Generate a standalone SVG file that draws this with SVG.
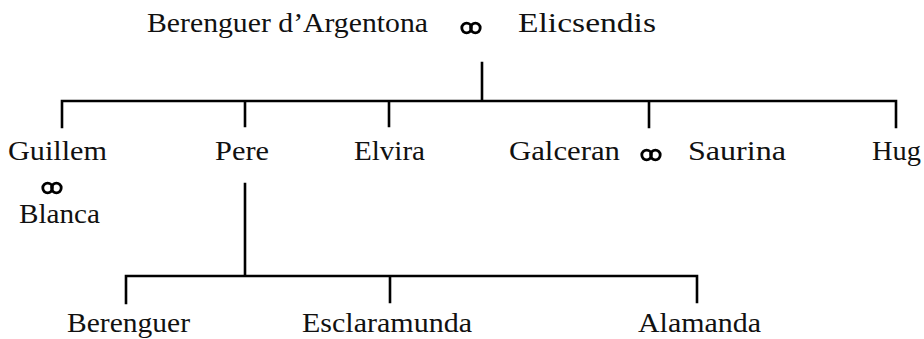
<svg xmlns="http://www.w3.org/2000/svg" width="924" height="339" viewBox="0 0 924 339">
<style>
text{font-family:"Liberation Serif","DejaVu Serif",serif;font-size:28px;fill:#111}
.ln{stroke:#000;stroke-width:2.6;fill:none;stroke-linecap:square}
.ring{stroke:#000;stroke-width:2.8;fill:none}
</style>
<defs>
<g id="marr"><circle class="ring" cx="-4.4" cy="0" r="4.8"/><circle class="ring" cx="4.4" cy="0" r="4.8"/></g>
</defs>
<rect width="924" height="339" fill="#fff"/>
<g id="connectors">
<path class="ln" d="M482 63V101M62 101H896M62 101V127M245 101V126M389 101V126M649 101V127M896 101V127"/>
<path class="ln" d="M245 184V276M126 276H697M126 276V303M390 276V302M697 276V302"/>
</g>
<g id="n-berenguer-argentona"><text x="147" y="32" textLength="281" lengthAdjust="spacingAndGlyphs">Berenguer d’Argentona</text></g>
<g id="m-top"><use href="#marr" x="471" y="28"/></g>
<g id="n-elicsendis"><text x="518" y="32" textLength="138" lengthAdjust="spacingAndGlyphs">Elicsendis</text></g>
<g id="n-guillem"><text x="8" y="160" textLength="99" lengthAdjust="spacingAndGlyphs">Guillem</text></g>
<g id="m-guillem"><use href="#marr" x="52" y="188"/></g>
<g id="n-blanca"><text x="19" y="223" textLength="81" lengthAdjust="spacingAndGlyphs">Blanca</text></g>
<g id="n-pere"><text x="215" y="160" textLength="54" lengthAdjust="spacingAndGlyphs">Pere</text></g>
<g id="n-elvira"><text x="354" y="160" textLength="71" lengthAdjust="spacingAndGlyphs">Elvira</text></g>
<g id="n-galceran"><text x="509" y="160" textLength="111" lengthAdjust="spacingAndGlyphs">Galceran</text></g>
<g id="m-galceran"><use href="#marr" x="651" y="155"/></g>
<g id="n-saurina"><text x="688" y="160" textLength="98" lengthAdjust="spacingAndGlyphs">Saurina</text></g>
<g id="n-hug"><text x="872" y="160" textLength="49" lengthAdjust="spacingAndGlyphs">Hug</text></g>
<g id="n-berenguer"><text x="67" y="332" textLength="123" lengthAdjust="spacingAndGlyphs">Berenguer</text></g>
<g id="n-esclaramunda"><text x="302" y="332" textLength="170" lengthAdjust="spacingAndGlyphs">Esclaramunda</text></g>
<g id="n-alamanda"><text x="638" y="332" textLength="123" lengthAdjust="spacingAndGlyphs">Alamanda</text></g>
</svg>
